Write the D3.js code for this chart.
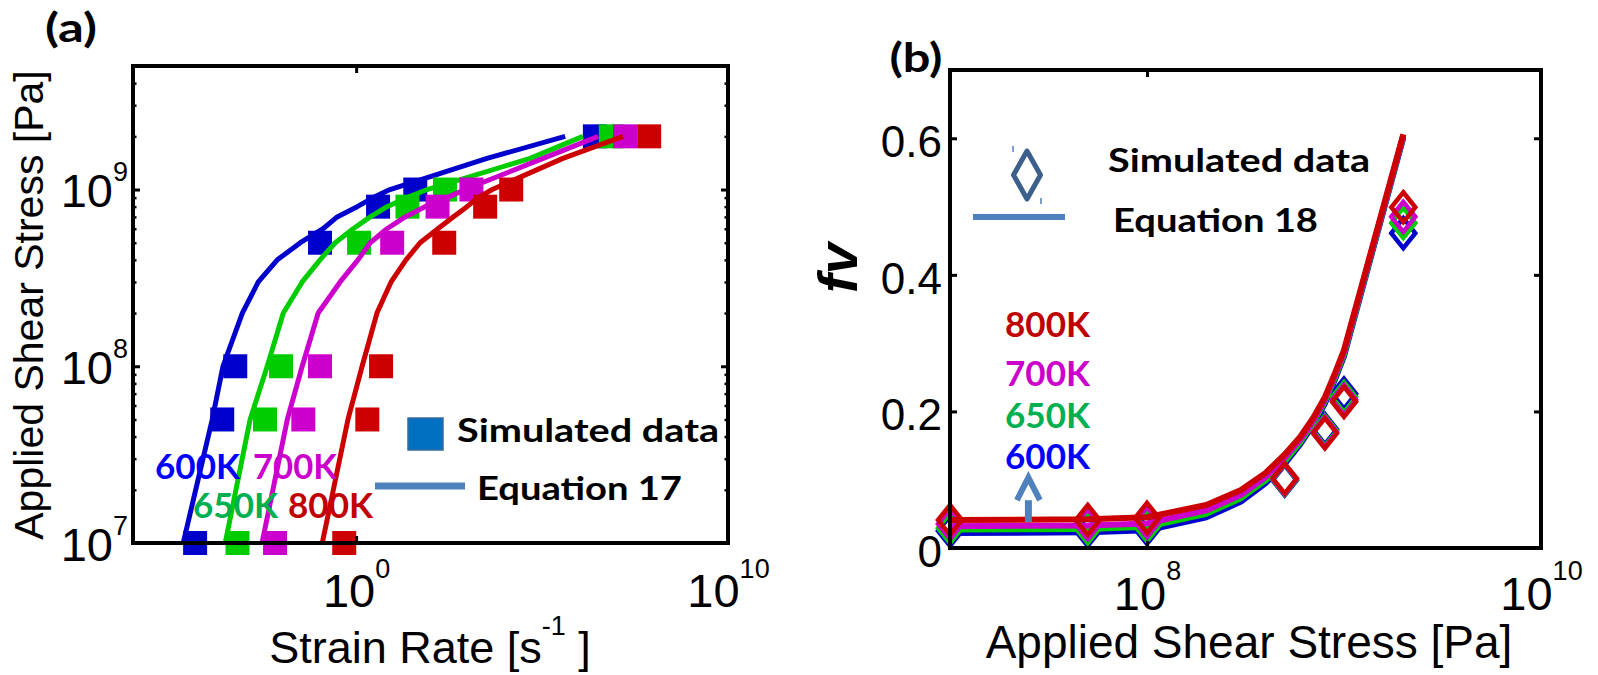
<!DOCTYPE html>
<html>
<head>
<meta charset="utf-8">
<title>Shear stress, strain rate and fv</title>
<script src="https://cdn.jsdelivr.net/npm/d3@7"></script>
<style>
  html, body { margin: 0; padding: 0; background: #fff; }
  svg { display: block; }
</style>
</head>
<body>
<svg id="fig" width="1598" height="675"></svg>
<script>
// ---------- data ----------
const temperatures = ["600K", "650K", "700K", "800K"];
const seriesColors = ["#0000CC", "#00CC00", "#CC00CC", "#CC0000"];
const labelColors  = ["#0000FF", "#00B050", "#CC00CC", "#C00000"];

// (a) simulated points: applied shear stress [Pa] vs strain rate [1/s]
const stressSim  = [1e7, 5e7, 1e8, 5e8, 8e8, 1e9, 2e9];
const rateSim600 = [4.68e-5, 2.51e-4, 5.62e-4, 0.107, 3.89, 38.9, 2.63e6];
const rateSim650 = [6.46e-4, 3.55e-3, 9.55e-3, 1.20, 24.0, 245, 7.08e6];
const rateSim700 = [6.61e-3, 0.0380, 0.107, 9.33, 155, 1260, 1.70e7];
const rateSim800 = [0.479, 2.00, 4.68, 234, 2950, 1.48e4, 7.59e7];

// (a) Equation 17 curves
const stressEq17 = [1e7, 5e7, 1e8, 2e8, 3e8, 4e8, 5e8, 6e8, 7e8, 8e8, 9e8, 1e9, 1.5e9, 2e9];
const rateEq600 = [2.24e-5, 1.35e-4, 2.63e-4, 8.71e-4, 2.34e-3, 7.59e-3, 0.0316, 0.129, 0.309, 1.07, 2.88, 8.13, 3310, 4.17e5];
const rateEq650 = [3.02e-4, 1.41e-3, 4.07e-3, 0.0110, 0.0355, 0.107, 0.275, 0.832, 2.40, 6.76, 23.4, 81.3, 4.79e4, 1.26e6];
const rateEq700 = [2.95e-3, 0.0141, 0.0355, 0.0955, 0.372, 1.12, 2.40, 6.76, 20.9, 70.8, 282, 851, 1.07e5, 3.24e6];
const rateEq800 = [0.123, 0.603, 1.45, 3.63, 8.71, 21.9, 52.5, 158, 407, 955, 1910, 4570, 3.63e5, 1.51e7];

// (b) simulated fv vs applied shear stress
const stressFv = [1e7, 5e7, 1e8, 5e8, 8e8, 1e9, 2e9];
const fvSim600 = [0.025, 0.025, 0.028, 0.099, 0.174, 0.226, 0.461];
const fvSim650 = [0.029, 0.029, 0.032, 0.100, 0.172, 0.221, 0.476];
const fvSim700 = [0.035, 0.035, 0.038, 0.101, 0.170, 0.217, 0.485];
const fvSim800 = [0.041, 0.041, 0.044, 0.102, 0.168, 0.214, 0.499];

// (b) Equation 18 curves
const stressEq18 = [1e7, 5e7, 1e8, 2e8, 3e8, 4e8, 5e8, 6e8, 7e8, 8e8, 9e8, 1e9, 2e9];
const fvEq600 = [0.022, 0.023, 0.026, 0.045, 0.068, 0.095, 0.123, 0.152, 0.181, 0.212, 0.247, 0.281, 0.601];
const fvEq650 = [0.027, 0.028, 0.031, 0.050, 0.073, 0.099, 0.127, 0.155, 0.184, 0.215, 0.250, 0.284, 0.603];
const fvEq700 = [0.032, 0.033, 0.036, 0.055, 0.078, 0.104, 0.132, 0.159, 0.187, 0.218, 0.253, 0.287, 0.604];
const fvEq800 = [0.041, 0.042, 0.045, 0.063, 0.085, 0.110, 0.137, 0.163, 0.191, 0.221, 0.256, 0.290, 0.606];

// tick values
const xTicksA = [1e0, 1e10];
const yTicksA = [1e7, 1e8, 1e9];
const xTicksB = [1e8, 1e10];
const yTicksB = [0, 0.2, 0.4, 0.6];

// ---------- setup ----------
const svg = d3.select("#fig");
const FA = "'Liberation Sans', Arial, Helvetica, sans-serif";
const FC = "Lato, 'Open Sans', sans-serif";

const A = { l: 133, r: 728, t: 66, b: 543 };
const B = { l: 950, r: 1541, t: 70, b: 548 };

const xA = d3.scaleLog().domain([1e-6, 1e10]).range([A.l, A.r]);
const yA = d3.scaleLog().domain([1e7, 5e9]).range([A.b, A.t]);
const xB = d3.scaleLog().domain([1e7, 1e10]).range([B.l, B.r]);
const yB = d3.scaleLinear().domain([0, 0.7]).range([B.b, B.t]);

function drawAxis(parent, axis, tx, ty, sw) {
  const g = parent.append("g").attr("transform", `translate(${tx},${ty})`).call(axis);
  g.select(".domain").remove();
  g.selectAll(".tick line").attr("stroke", "#000").attr("stroke-width", sw);
  g.attr("font-family", FA).attr("font-size", null);
  return g;
}
function powerOfTen(texts, baseSize, expSize, lift) {
  texts.each(function (d) {
    const t = d3.select(this).text(null).attr("fill", "#000").attr("font-size", baseSize);
    t.append("tspan").text("10");
    t.append("tspan").attr("font-size", expSize).attr("dy", -lift).text(Math.round(Math.log10(d)));
  });
}
function label(parent, txt, x, y, opts) {
  const t = parent.append("text").attr("x", x).attr("y", y).text(txt)
    .attr("font-family", opts.family || FC)
    .attr("font-weight", opts.weight || 700)
    .attr("font-size", opts.size)
    .attr("fill", opts.color || "#000");
  if (opts.anchor) t.attr("text-anchor", opts.anchor);
  if (opts.len) t.attr("textLength", opts.len).attr("lengthAdjust", "spacingAndGlyphs");
  return t;
}

// ---------- panel (a) ----------
const gA = svg.append("g");
const simA = [rateSim600, rateSim650, rateSim700, rateSim800];
const eqA  = [rateEq600, rateEq650, rateEq700, rateEq800];
const lineA = d3.line().x(d => xA(d[0])).y(d => yA(d[1]));

simA.forEach((rates, i) => {
  gA.append("g").selectAll("path")
    .data(rates.map((r, j) => [r, stressSim[j]]))
    .join("path")
    .attr("d", d3.symbol(d3.symbolSquare, 576))
    .attr("transform", d => `translate(${xA(d[0])},${yA(d[1])})`)
    .attr("fill", seriesColors[i]);
  gA.append("path")
    .datum(eqA[i].map((r, j) => [r, stressEq17[j]]))
    .attr("d", lineA)
    .attr("fill", "none")
    .attr("stroke", seriesColors[i])
    .attr("stroke-width", 5)
    .attr("stroke-linejoin", "round");
});

const minorA = yA.ticks().filter(v => Math.abs(Math.log10(v) - Math.round(Math.log10(v))) > 1e-6);

const leftA = drawAxis(gA, d3.axisLeft(yA).tickValues(yTicksA).tickSizeInner(-7).tickSizeOuter(0).tickPadding(5), A.l, 0, 3);
leftA.selectAll(".tick text").attr("dy", null).attr("y", 17);
powerOfTen(leftA.selectAll(".tick text"), 47, 27, 26);
drawAxis(gA, d3.axisLeft(yA).tickValues(minorA).tickSizeInner(-3.5).tickSizeOuter(0).tickFormat(""), A.l, 0, 2.5);
drawAxis(gA, d3.axisRight(yA).tickValues(yTicksA).tickSizeInner(-7).tickSizeOuter(0).tickFormat(""), A.r, 0, 3);
drawAxis(gA, d3.axisRight(yA).tickValues(minorA).tickSizeInner(-3.5).tickSizeOuter(0).tickFormat(""), A.r, 0, 2.5);
drawAxis(gA, d3.axisTop(xA).tickValues(xTicksA).tickSizeInner(-7).tickSizeOuter(0).tickFormat(""), 0, A.t, 3);
const bottomA = drawAxis(gA, d3.axisBottom(xA).tickValues(xTicksA).tickSizeInner(-7).tickSizeOuter(0), 0, A.b, 3);
bottomA.selectAll(".tick text").attr("dy", null).attr("y", 64);
powerOfTen(bottomA.selectAll(".tick text"), 47, 27, 29);

gA.append("rect").attr("x", A.l).attr("y", A.t).attr("width", A.r - A.l).attr("height", A.b - A.t)
  .attr("fill", "none").attr("stroke", "#000").attr("stroke-width", 4);

// axis titles
const xtA = gA.append("text").attr("x", 430).attr("y", 663).attr("text-anchor", "middle")
  .attr("font-family", FA).attr("font-size", 45).attr("fill", "#000");
xtA.append("tspan").text("Strain Rate [s");
xtA.append("tspan").attr("font-size", 27).attr("dy", -28).text("-1");
xtA.append("tspan").attr("dy", 28).text(" ]");
gA.append("text").attr("transform", "translate(43,305) rotate(-90)").attr("text-anchor", "middle")
  .attr("font-family", FA).attr("font-size", 41).attr("fill", "#000").text("Applied Shear Stress [Pa]");

label(gA, "(a)", 71, 42, { size: 40, anchor: "middle", len: 52 });

// temperature labels
label(gA, temperatures[0], 155, 479, { size: 35, color: labelColors[0], len: 85 });
label(gA, temperatures[2], 253, 479, { size: 35, color: labelColors[2], len: 84 });
label(gA, temperatures[1], 193, 518, { size: 35, color: labelColors[1], len: 85 });
label(gA, temperatures[3], 288, 518, { size: 35, color: labelColors[3], len: 85 });

// legend
gA.append("rect").attr("x", 408).attr("y", 418).attr("width", 35).attr("height", 32)
  .attr("fill", "#0070C0").attr("stroke", "#3B6A9A").attr("stroke-width", 1.5);
label(gA, "Simulated data", 457, 442, { size: 33, len: 262 });
gA.append("line").attr("x1", 375).attr("x2", 465).attr("y1", 486).attr("y2", 486)
  .attr("stroke", "#4F81BD").attr("stroke-width", 7);
label(gA, "Equation 17", 477, 500, { size: 33, len: 205 });

// ---------- panel (b) ----------
const gB = svg.append("g");
const simB = [fvSim600, fvSim650, fvSim700, fvSim800];
const eqB  = [fvEq600, fvEq650, fvEq700, fvEq800];
const lineB = d3.line().x(d => xB(d[0])).y(d => yB(d[1]));
const diamond = (hw, hh) => `M0,${-hh}L${hw},0L0,${hh}L${-hw},0Z`;

simB.forEach((vals, i) => {
  gB.append("path")
    .datum(eqB[i].map((v, j) => [stressEq18[j], v]))
    .attr("d", lineB)
    .attr("fill", "none")
    .attr("stroke", seriesColors[i])
    .attr("stroke-width", 6)
    .attr("stroke-linejoin", "round");
  gB.append("g").selectAll("path")
    .data(vals.map((v, j) => [stressFv[j], v]))
    .join("path")
    .attr("d", diamond(12, 15))
    .attr("transform", d => `translate(${xB(d[0])},${yB(d[1])})`)
    .attr("fill", "none")
    .attr("stroke", seriesColors[i])
    .attr("stroke-width", 4.5)
    .attr("stroke-linejoin", "miter");
});

const leftB = drawAxis(gB, d3.axisLeft(yB).tickValues(yTicksB).tickSizeInner(-7).tickSizeOuter(0).tickPadding(8)
  .tickFormat(d => d === 0 ? "0" : d3.format(".1f")(d)), B.l, 0, 3);
leftB.selectAll(".tick text").attr("font-size", 44).attr("fill", "#000").attr("dy", "0.42em");
drawAxis(gB, d3.axisRight(yB).tickValues(yTicksB).tickSizeInner(-7).tickSizeOuter(0).tickFormat(""), B.r, 0, 3);
drawAxis(gB, d3.axisTop(xB).tickValues(xTicksB).tickSizeInner(-7).tickSizeOuter(0).tickFormat(""), 0, B.t, 3);
const bottomB = drawAxis(gB, d3.axisBottom(xB).tickValues(xTicksB).tickSizeInner(-7).tickSizeOuter(0), 0, B.b, 3);
bottomB.selectAll(".tick text").attr("dy", null).attr("y", 62);
powerOfTen(bottomB.selectAll(".tick text"), 47, 27, 30);

gB.append("rect").attr("x", B.l).attr("y", B.t).attr("width", B.r - B.l).attr("height", B.b - B.t)
  .attr("fill", "none").attr("stroke", "#000").attr("stroke-width", 4);

gB.append("text").attr("x", 1249).attr("y", 658).attr("text-anchor", "middle")
  .attr("font-family", FA).attr("font-size", 46).attr("fill", "#000").text("Applied Shear Stress [Pa]");
gB.append("text").attr("transform", "translate(857,268) rotate(-90)").attr("text-anchor", "middle")
  .attr("font-family", FA).attr("font-style", "italic").attr("font-weight", 700)
  .attr("font-size", 56).attr("fill", "#000").text("fv");

label(gB, "(b)", 916, 72, { size: 40, anchor: "middle", len: 53 });

// temperature labels, stacked
label(gB, temperatures[3], 1005, 337, { size: 35, color: labelColors[3], len: 85 });
label(gB, temperatures[2], 1005, 386, { size: 35, color: labelColors[2], len: 85 });
label(gB, temperatures[1], 1005, 428, { size: 35, color: labelColors[1], len: 85 });
label(gB, temperatures[0], 1005, 469, { size: 35, color: labelColors[0], len: 85 });

// arrow: temperature increases upward
const ax = xB(2.5e7);
gB.append("line").attr("x1", ax).attr("x2", ax).attr("y1", yB(0.038)).attr("y2", yB(0.07))
  .attr("stroke", "#4F81BD").attr("stroke-width", 7);
gB.append("polyline")
  .attr("points", `${ax - 11.5},${yB(0.07)} ${ax},${yB(0.103)} ${ax + 11.5},${yB(0.07)}`)
  .attr("fill", "none").attr("stroke", "#4F81BD").attr("stroke-width", 6);

// legend
gB.append("path").attr("d", diamond(13.5, 24)).attr("transform", "translate(1027,175)")
  .attr("fill", "none").attr("stroke", "#3C5F8C").attr("stroke-width", 5).attr("stroke-linejoin", "round");
gB.append("line").attr("x1", 1013).attr("x2", 1013).attr("y1", 146).attr("y2", 152)
  .attr("stroke", "#4F81BD").attr("stroke-width", 1.5);
gB.append("line").attr("x1", 1041).attr("x2", 1041).attr("y1", 198).attr("y2", 204)
  .attr("stroke", "#4F81BD").attr("stroke-width", 1.5);
label(gB, "Simulated data", 1108, 172, { size: 33, len: 262 });
gB.append("line").attr("x1", 973).attr("x2", 1065).attr("y1", 217).attr("y2", 217)
  .attr("stroke", "#4F81BD").attr("stroke-width", 6);
label(gB, "Equation 18", 1113, 232, { size: 33, len: 205 });
</script>
</body>
</html>
